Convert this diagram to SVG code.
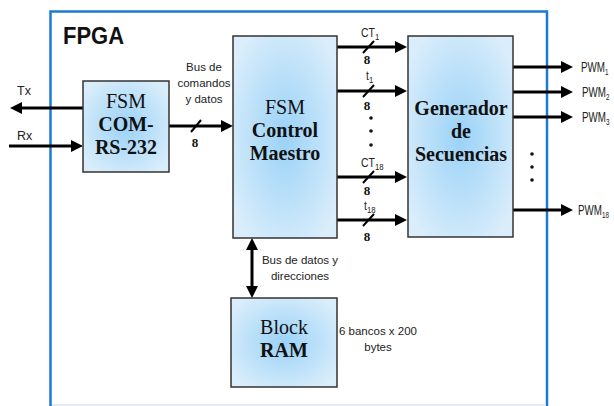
<svg xmlns="http://www.w3.org/2000/svg" width="614" height="406" viewBox="0 0 614 406">
  <defs>
    <radialGradient id="boxfill" cx="50%" cy="50%" r="60%">
      <stop offset="0" stop-color="#9ad2f7"/>
      <stop offset="1" stop-color="#d9edfb"/>
    </radialGradient>
    <marker id="ah" markerUnits="userSpaceOnUse" viewBox="0 0 12 12" markerWidth="12" markerHeight="12" refX="6" refY="6" orient="auto-start-reverse">
      <path d="M0,0 L12,6 L0,12 z" fill="#000"/>
    </marker>
    <style>
      .box { fill: url(#boxfill); stroke: #333; stroke-width: 1.5; }
      .frame { fill: none; stroke: #1b7bd0; stroke-width: 2.5; }
      .arr { stroke: #000; stroke-width: 3; fill: none; marker-end: url(#ah); }
      .bi { stroke: #000; stroke-width: 3; fill: none; marker-end: url(#ah); marker-start: url(#ah); }
      .slash { stroke: #000; stroke-width: 2; }
      .ser { font-family: "Liberation Serif", "Times New Roman", serif; font-size: 20px; fill: #111; text-anchor: middle; }
      .b { font-weight: bold; }
      .lbl { font-family: "Liberation Sans", Arial, sans-serif; font-size: 11.5px; fill: #222; text-anchor: middle; }
      .sm { font-family: "Liberation Sans", Arial, sans-serif; font-size: 12.5px; fill: #222; }
      .cond { font-family: "Liberation Sans", Arial, sans-serif; font-size: 12px; fill: #222; }
      .pwm { font-family: "Liberation Sans", Arial, sans-serif; font-size: 14px; fill: #222; }
      .sub { font-size: 9px; }
      .eight { font-family: "Liberation Serif", "Times New Roman", serif; font-size: 13px; font-weight: bold; fill: #111; text-anchor: middle; }
      .dot { fill: #111; }
    </style>
  </defs>

  <rect width="614" height="406" fill="#fff"/>
  <g id="fpga">
    <path class="frame" d="M50.5,420 V11.5 H547 V420"/>
    <line x1="52" y1="405" x2="546" y2="405" stroke="#dde5ee" stroke-width="1.5"/>
    <text x="63" y="44" font-family="Liberation Sans, Arial, sans-serif" font-weight="bold" font-size="23" fill="#111" textLength="61" lengthAdjust="spacingAndGlyphs">FPGA</text>
  </g>

  <g id="connectors">
    <line class="arr" x1="83" y1="108" x2="16" y2="108"/>
    <line class="arr" x1="9" y1="146" x2="77" y2="146"/>
    <line class="arr" x1="169" y1="126" x2="227" y2="126"/>
    <line class="slash" x1="191" y1="132" x2="201" y2="120"/>
    <line class="arr" x1="337" y1="47" x2="401" y2="47"/>
    <line class="arr" x1="337" y1="91" x2="401" y2="91"/>
    <line class="arr" x1="337" y1="177" x2="401" y2="177"/>
    <line class="arr" x1="337" y1="220" x2="401" y2="220"/>
    <line class="slash" x1="363" y1="53" x2="374" y2="41"/>
    <line class="slash" x1="363" y1="97" x2="374" y2="85"/>
    <line class="slash" x1="363" y1="183" x2="374" y2="171"/>
    <line class="slash" x1="363" y1="226" x2="374" y2="214"/>
    <line class="arr" x1="513" y1="67" x2="567" y2="67"/>
    <line class="arr" x1="513" y1="92" x2="567" y2="92"/>
    <line class="arr" x1="513" y1="117" x2="567" y2="117"/>
    <line class="arr" x1="513" y1="210" x2="567" y2="210"/>
    <line class="bi" x1="252" y1="244" x2="252" y2="292"/>
  </g>

  <g id="labels">
    <text class="sm" x="17" y="95">Tx</text>
    <text class="sm" x="17" y="140">Rx</text>
    <text class="lbl" x="204" y="71">Bus de</text>
    <text class="lbl" x="204" y="87">comandos</text>
    <text class="lbl" x="204" y="103">y datos</text>
    <text class="eight" x="195" y="147">8</text>

    <text class="cond" transform="translate(361,37) scale(0.87,1)">CT<tspan class="sub" dy="3">1</tspan></text>
    <text class="eight" x="367" y="64">8</text>
    <text class="cond" transform="translate(366,80) scale(0.87,1)">t<tspan class="sub" dy="3">1</tspan></text>
    <text class="eight" x="367" y="110">8</text>
    <circle class="dot" cx="371" cy="118" r="1.8"/>
    <circle class="dot" cx="371" cy="131" r="1.8"/>
    <circle class="dot" cx="371" cy="145" r="1.8"/>
    <text class="cond" transform="translate(361,167) scale(0.87,1)">CT<tspan class="sub" dy="3">18</tspan></text>
    <text class="eight" x="367" y="195">8</text>
    <text class="cond" transform="translate(364,210) scale(0.87,1)">t<tspan class="sub" dy="3">18</tspan></text>
    <text class="eight" x="367" y="241">8</text>

    <text class="pwm" transform="translate(581,72) scale(0.7,1)">PWM<tspan class="sub" dy="3">1</tspan></text>
    <text class="pwm" transform="translate(582,97) scale(0.7,1)">PWM<tspan class="sub" dy="3">2</tspan></text>
    <text class="pwm" transform="translate(582,122) scale(0.7,1)">PWM<tspan class="sub" dy="3">3</tspan></text>
    <text class="pwm" transform="translate(578,215) scale(0.7,1)">PWM<tspan class="sub" dy="3">18</tspan></text>
    <circle class="dot" cx="532" cy="154" r="1.8"/>
    <circle class="dot" cx="532" cy="167" r="1.8"/>
    <circle class="dot" cx="532" cy="180" r="1.8"/>

    <text class="lbl" x="300" y="264">Bus de datos y</text>
    <text class="lbl" x="300" y="280">direcciones</text>
    <text class="lbl" x="378" y="335" font-size="11">6 bancos x 200</text>
    <text class="lbl" x="378" y="351" font-size="11">bytes</text>
  </g>

  <g id="fsm-com">
    <rect class="box" x="83" y="81" width="86" height="91"/>
    <text class="ser" x="126" y="108">FSM</text>
    <text class="ser b" x="126" y="131">COM-</text>
    <text class="ser b" x="126" y="154">RS-232</text>
  </g>

  <g id="fsm-control">
    <rect class="box" x="233" y="36" width="104" height="202"/>
    <text class="ser" x="285" y="114">FSM</text>
    <text class="ser b" x="285" y="137">Control</text>
    <text class="ser b" x="285" y="160">Maestro</text>
  </g>

  <g id="generador">
    <rect class="box" x="408" y="36" width="105" height="201"/>
    <text class="ser b" x="461" y="115">Generador</text>
    <text class="ser b" x="461" y="138">de</text>
    <text class="ser b" x="461" y="161">Secuencias</text>
  </g>

  <g id="block-ram">
    <rect class="box" x="231" y="298" width="106" height="89"/>
    <text class="ser" x="284" y="334">Block</text>
    <text class="ser b" x="284" y="357">RAM</text>
  </g>
</svg>
